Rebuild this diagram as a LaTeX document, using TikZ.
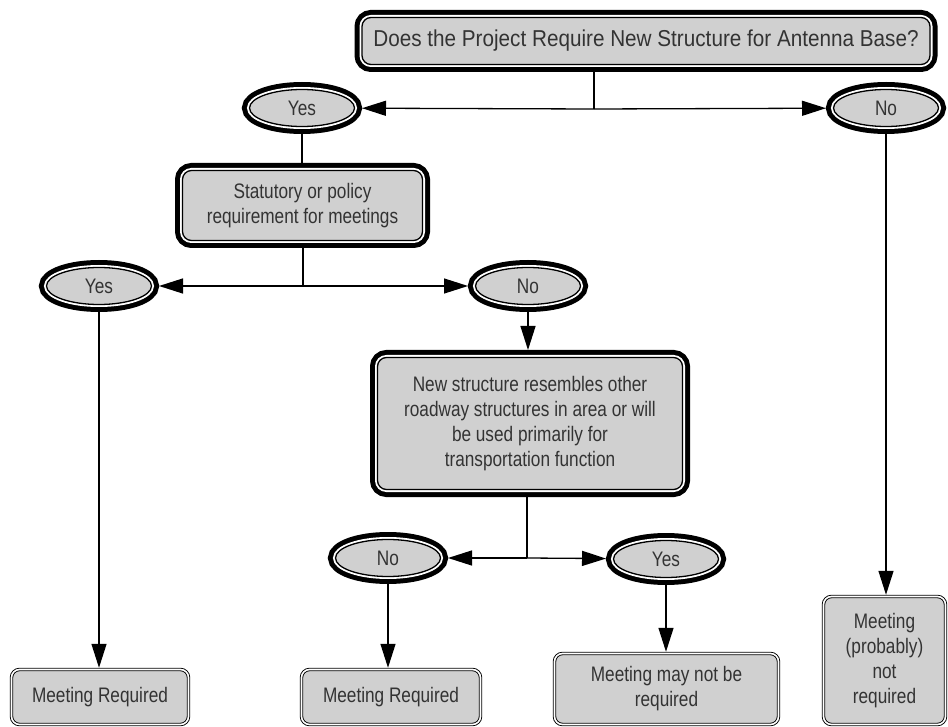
\documentclass[tikz,border=0pt]{standalone}
\usepackage{fontspec}
\setmainfont{Liberation Sans}[FakeStretch=0.82]
\newfontfamily\widefont{Liberation Sans}[FakeStretch=0.9]
\usetikzlibrary{arrows.meta, positioning, shapes.geometric, calc}
\definecolor{boxgray}{HTML}{D0D0D0}

\begin{document}
\begin{tikzpicture}[
    x=1pt, y=-1pt,
    >={Triangle[length=24pt, width=15pt]},
    font=\fontsize{21}{25}\selectfont,
    thickrim/.style={preaction={draw=black, line width=15pt}, preaction={draw=white, line width=5pt}, fill=boxgray, draw=black, line width=1.3pt, outer sep=7.5pt, text=black!80},
    query/.style={thickrim, rectangle, rounded corners=9pt, align=center, inner sep=4pt},
    answer/.style={thickrim, ellipse, minimum width=105pt, minimum height=37pt, inner sep=0pt},
    result/.style={rectangle, rounded corners=8pt, draw=black, double, double distance=1.6pt, line width=0.9pt, fill=boxgray, align=center, outer sep=1.7pt, text=black!80},
    link/.style={line width=1.3pt}
  ]
    \useasboundingbox (0,0) rectangle (948,727);

    % questions
    \node[query, minimum width=568pt, minimum height=47pt, font=\widefont\fontsize{23}{27}\selectfont] (q1) at (646,41) {Does the Project Require New Structure for Antenna Base?};
    \node[query, minimum width=240pt, minimum height=70pt] (q2) at (302.5,205.5) {Statutory or policy\\requirement for meetings};
    \node[query, minimum width=305pt, minimum height=132pt] (q3) at (530,423.5) {New structure resembles other\\roadway structures in area or will\\be used primarily for\\transportation function};

    % answers
    \node[answer] (yes1) at (302,108) {Yes};
    \node[answer] (no1) at (886,108) {No};
    \node[answer] (yes2) at (99,286) {Yes};
    \node[answer] (no2) at (528,286) {No};
    \node[answer] (no3) at (388,558) {No};
    \node[answer] (yes3) at (666,559) {Yes};

    % results
    \node[result, minimum width=177pt, minimum height=55pt] (r1) at (100,697) {Meeting Required};
    \node[result, minimum width=179pt, minimum height=55pt] (r2) at (391,697) {Meeting Required};
    \node[result, minimum width=224pt, minimum height=71pt] (r3) at (666.5,689) {Meeting may not be\\required};
    \node[result, minimum width=122pt, minimum height=128pt] (r4) at (884.5,660.5) {Meeting\\(probably)\\not\\required};

    % junctions
    \coordinate (j1) at (594,109);
    \coordinate (j2) at (303,286);
    \coordinate (j3) at (527,558);

    \draw[link] (j1 |- q1.south) -- (j1);
    \draw[link, ->] (j1) -- (yes1);
    \draw[link, ->] (j1) -- (no1);
    \draw[link] (yes1.south) -- (yes1.south |- q2.north);
    \draw[link] (j2 |- q2.south) -- (j2);
    \draw[link, ->] (j2) -- (yes2);
    \draw[link, ->] (j2) -- (no2);
    \draw[link, ->] (no2.south) -- (no2.south |- q3.north);
    \draw[link] (j3 |- q3.south) -- (j3);
    \draw[link, ->] (j3) -- (no3);
    \draw[link, ->] (j3) -- (yes3);
    \draw[link, ->] (yes2.south) -- (yes2.south |- r1.north);
    \draw[link, ->] (no3.south) -- (no3.south |- r2.north);
    \draw[link, ->] (yes3.south) -- (yes3.south |- r3.north);
    \draw[link, ->] (no1.south) -- (no1.south |- r4.north);
  \end{tikzpicture}
\end{document}
